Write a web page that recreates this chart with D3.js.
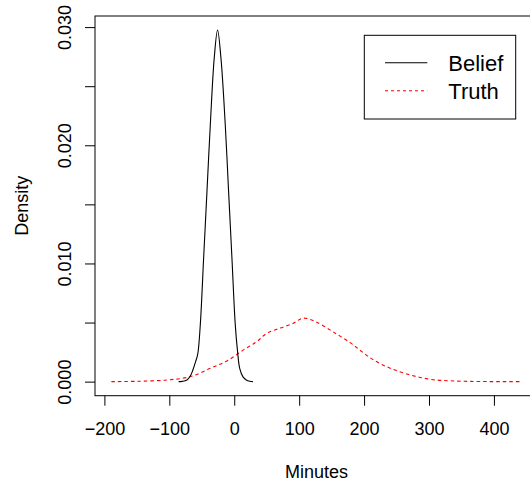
<!DOCTYPE html>
<html>
<head>
<meta charset="utf-8">
<script src="https://cdn.jsdelivr.net/npm/d3@7"></script>
<style>
  body { margin: 0; background: #fff; }
  svg text { font-family: "Liberation Sans", Arial, Helvetica, sans-serif; }
</style>
</head>
<body>
<div id="chart"></div>
<script>
// density estimates: [minutes, density]
const belief = [
  [-85.7, 0], [-80, 0.00002], [-72.9, 0.00014], [-67.5, 0.0005], [-63.7, 0.00098],
  [-59.5, 0.0017], [-56.3, 0.0023], [-52.3, 0.0048], [-47.2, 0.0104], [-42, 0.0161],
  [-36.9, 0.0217], [-30.8, 0.0274], [-25.7, 0.02975], [-20.5, 0.0274], [-13.8, 0.0217],
  [-8.7, 0.0161], [-3.5, 0.0104], [1.6, 0.0048], [5.2, 0.0025], [8.5, 0.0011],
  [13.5, 0.0004], [18.5, 0.00014], [24, 0.00003], [28.8, 0]
]
const truth = [
  [-189.2, 0], [-150, 0.00003], [-103.5, 0.00014], [-67.7, 0.00042], [-36.9, 0.00113],
  [-11.3, 0.00175], [14.3, 0.00269], [34.9, 0.00339], [50.3, 0.0041], [70.8, 0.00453],
  [91.2, 0.00495], [106, 0.00537], [125, 0.00508], [152.8, 0.00419], [178.5, 0.0033],
  [196.5, 0.00254], [214.3, 0.00184], [240, 0.00114], [270.8, 0.00057], [301.5, 0.0002],
  [337.4, 0.00006], [380, 0.00001], [442.6, 0]
]
const xTicks = [-200, -100, 0, 100, 200, 300, 400]
const yTicks = [0, 0.005, 0.01, 0.015, 0.02, 0.025, 0.03]
const yLabels = [0, 0.01, 0.02, 0.03]
const seriesNames = ["Belief", "Truth"]

drawChart("#chart")

function createCanvas(){
    return { width: 530, height: 484, left: 95, right: 538, top: 16, bottom: 395.7 }
}

// R style: pad the data range by 4% on each side
function padded(ext){
    const d = (ext[1] - ext[0]) * 0.04
    return [ext[0] - d, ext[1] + d]
}

function drawChart(id){
    const c = createCanvas()
    const svg = d3.select(id).append("svg").attr("width", c.width).attr("height", c.height)

    const all = belief.concat(truth)
    const x = d3.scaleLinear().domain(padded(d3.extent(all, d => d[0]))).range([c.left, c.right])
    const y = d3.scaleLinear().domain(padded(d3.extent(all, d => d[1]))).range([c.bottom, c.top])

    drawAxes(svg, c, x, y)

    const line = d3.line().x(d => x(d[0])).y(d => y(d[1])).curve(d3.curveCatmullRom)

    svg.append("path").attr("d", line(truth)).attr("fill", "none")
      .attr("stroke", "#ff0000").attr("stroke-width", 1.1).attr("stroke-dasharray", "3.5 3")
    svg.append("path").attr("d", line(belief)).attr("fill", "none")
      .attr("stroke", "#000").attr("stroke-width", 1.1)

    svg.append("rect").attr("x", c.left).attr("y", c.top)
      .attr("width", c.right - c.left).attr("height", c.bottom - c.top)
      .attr("fill", "none").attr("stroke", "#000").attr("stroke-width", 1)

    drawLegend(svg)
}

function drawAxes(svg, c, x, y){
    const xa = svg.append("g").attr("transform", `translate(0,${c.bottom})`)
      .call(d3.axisBottom(x).tickValues(xTicks).tickSize(10).tickSizeOuter(0).tickFormat(d3.format("d")))
    xa.select(".domain").remove()
    xa.selectAll("text").attr("y", 39.3).attr("dy", 0).attr("font-size", "18px").attr("fill", "#000")
      .text(d => d < 0 ? "\u2212" + Math.abs(d) : d)

    const ya = svg.append("g").attr("transform", `translate(${c.left},0)`)
      .call(d3.axisLeft(y).tickValues(yTicks).tickSize(10).tickSizeOuter(0)
        .tickFormat(d => yLabels.some(v => Math.abs(v - d) < 1e-9) ? d3.format(".3f")(d) : ""))
    ya.select(".domain").remove()
    ya.selectAll("text").attr("transform", "rotate(-90)").attr("x", 0).attr("y", -24.3)
      .attr("dy", 0).attr("text-anchor", "middle").attr("font-size", "18px").attr("fill", "#000")

    svg.append("text").attr("x", (c.left + c.right) / 2).attr("y", 477.7)
      .attr("text-anchor", "middle").attr("font-size", "18px").text("Minutes")

    svg.append("text").attr("transform", `translate(28,${(c.top + c.bottom) / 2}) rotate(-90)`)
      .attr("text-anchor", "middle").attr("font-size", "18px").text("Density")
}

function drawLegend(svg){
    const g = svg.append("g")
    g.append("rect").attr("x", 364.3).attr("y", 35.3).attr("width", 151.4).attr("height", 83.7)
      .attr("fill", "#fff").attr("stroke", "#000").attr("stroke-width", 1)

    const rows = g.selectAll(".legend-row").data(seriesNames).enter()
      .append("g").attr("class", "legend-row")
      .attr("transform", (d, j) => `translate(0,${62.7 + j * 28})`)

    rows.append("line").attr("x1", 385).attr("x2", 427.3).attr("y1", 0).attr("y2", 0)
      .attr("stroke", (d, j) => j === 0 ? "#000" : "#ff0000").attr("stroke-width", 1.1)
      .attr("stroke-dasharray", (d, j) => j === 0 ? null : "3 3")

    rows.append("text").attr("x", 448.3).attr("y", 8.2).attr("font-size", "22px").text(d => d)
}
</script>
</body>
</html>
